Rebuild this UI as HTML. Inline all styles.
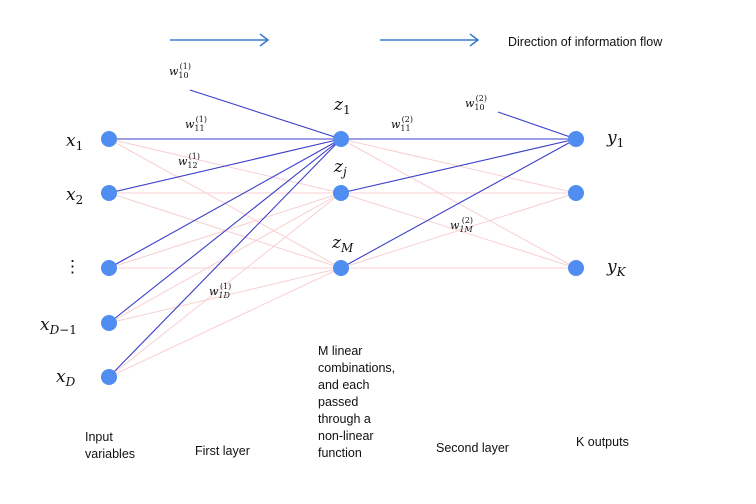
<!DOCTYPE html>
<html><head><style>body{margin:0;background:#fff}svg{display:block}
.m{font-family:"DejaVu Serif","Liberation Serif",serif;font-style:italic;fill:#111}
.s{font-family:"DejaVu Serif","Liberation Serif",serif;fill:#111}
.t{font-family:"Liberation Sans",sans-serif;font-size:12.5px;fill:#111}</style></head><body>
<svg width="756" height="504" viewBox="0 0 756 504">
<g stroke="#f8d0d0" stroke-width="1">
<line x1="109" y1="139" x2="341" y2="193"/><line x1="109" y1="139" x2="341" y2="268"/>
<line x1="109" y1="193" x2="341" y2="193"/><line x1="109" y1="193" x2="341" y2="268"/>
<line x1="109" y1="268" x2="341" y2="193"/><line x1="109" y1="268" x2="341" y2="268"/>
<line x1="109" y1="323" x2="341" y2="193"/><line x1="109" y1="323" x2="341" y2="268"/>
<line x1="109" y1="377" x2="341" y2="193"/><line x1="109" y1="377" x2="341" y2="268"/>
<line x1="341" y1="139" x2="576" y2="193"/><line x1="341" y1="139" x2="576" y2="268"/>
<line x1="341" y1="193" x2="576" y2="193"/><line x1="341" y1="193" x2="576" y2="268"/>
<line x1="341" y1="268" x2="576" y2="193"/><line x1="341" y1="268" x2="576" y2="268"/>
</g>
<g stroke="#3b3fc8" stroke-width="1.1">
<line x1="190" y1="90" x2="341" y2="139"/>
<line x1="109" y1="139" x2="341" y2="139"/><line x1="109" y1="193" x2="341" y2="139"/>
<line x1="109" y1="268" x2="341" y2="139"/><line x1="109" y1="323" x2="341" y2="139"/>
<line x1="109" y1="377" x2="341" y2="139"/>
<line x1="498" y1="112" x2="576" y2="139"/>
<line x1="341" y1="139" x2="576" y2="139"/><line x1="341" y1="193" x2="576" y2="139"/>
<line x1="341" y1="268" x2="576" y2="139"/>
</g>
<g fill="#4f8ef0">
<circle cx="109" cy="139" r="8"/><circle cx="109" cy="193" r="8"/><circle cx="109" cy="268" r="8"/><circle cx="109" cy="323" r="8"/><circle cx="109" cy="377" r="8"/>
<circle cx="341" cy="139" r="8"/><circle cx="341" cy="193" r="8"/><circle cx="341" cy="268" r="8"/>
<circle cx="576" cy="139" r="8"/><circle cx="576" cy="193" r="8"/><circle cx="576" cy="268" r="8"/>
</g>
<g stroke="#3a7bd0" stroke-width="1.5" fill="none">
<line x1="170" y1="40" x2="268" y2="40"/><polyline points="260,34 268,40 260,46"/>
<line x1="380" y1="40" x2="478" y2="40"/><polyline points="470,34 478,40 470,46"/>
</g>
<text class="t" x="508" y="46">Direction of information flow</text>
<g class="m" font-size="17">
<text x="66" y="146">x<tspan font-size="12" dy="4" font-style="normal">1</tspan></text>
<text x="66" y="200">x<tspan font-size="12" dy="4" font-style="normal">2</tspan></text>
<text x="40" y="330">x<tspan font-size="12" dy="4">D</tspan><tspan font-size="12" font-style="normal">−1</tspan></text>
<text x="56" y="382">x<tspan font-size="12" dy="4">D</tspan></text>
<text x="334" y="110">z<tspan font-size="12" dy="4" font-style="normal">1</tspan></text>
<text x="334" y="172">z<tspan font-size="12" dy="4">j</tspan></text>
<text x="332" y="248">z<tspan font-size="12" dy="4">M</tspan></text>
<text x="607" y="143">y<tspan font-size="12" dy="4" font-style="normal">1</tspan></text>
<text x="607" y="272">y<tspan font-size="12" dy="4">K</tspan></text>
</g>
<text class="s" x="64" y="272" font-size="17">⋮</text>
<g class="m" font-size="11">
<text x="169" y="75">w<tspan font-size="8" dy="3" font-style="normal">10</tspan><tspan font-size="8" dx="-9" dy="-9" font-style="normal">(1)</tspan></text>
<text x="185" y="128">w<tspan font-size="8" dy="3" font-style="normal">11</tspan><tspan font-size="8" dx="-9" dy="-9" font-style="normal">(1)</tspan></text>
<text x="178" y="165">w<tspan font-size="8" dy="3" font-style="normal">12</tspan><tspan font-size="8" dx="-9" dy="-9" font-style="normal">(1)</tspan></text>
<text x="209" y="295">w<tspan font-size="8" dy="3">1D</tspan><tspan font-size="8" dx="-10" dy="-9" font-style="normal">(1)</tspan></text>
<text x="391" y="128">w<tspan font-size="8" dy="3" font-style="normal">11</tspan><tspan font-size="8" dx="-9" dy="-9" font-style="normal">(2)</tspan></text>
<text x="465" y="107">w<tspan font-size="8" dy="3" font-style="normal">10</tspan><tspan font-size="8" dx="-9" dy="-9" font-style="normal">(2)</tspan></text>
<text x="450" y="229">w<tspan font-size="8" dy="3">1M</tspan><tspan font-size="8" dx="-11" dy="-9" font-style="normal">(2)</tspan></text>
</g>
<g class="t">
<text x="85" y="441">Input</text><text x="85" y="458">variables</text>
<text x="195" y="455">First layer</text>
<text x="318" y="355">M linear</text><text x="318" y="372">combinations,</text><text x="318" y="389">and each</text><text x="318" y="406">passed</text><text x="318" y="423">through a</text><text x="318" y="440">non-linear</text><text x="318" y="457">function</text>
<text x="436" y="452">Second layer</text>
<text x="576" y="446">K outputs</text>
</g>
</svg></body></html>
